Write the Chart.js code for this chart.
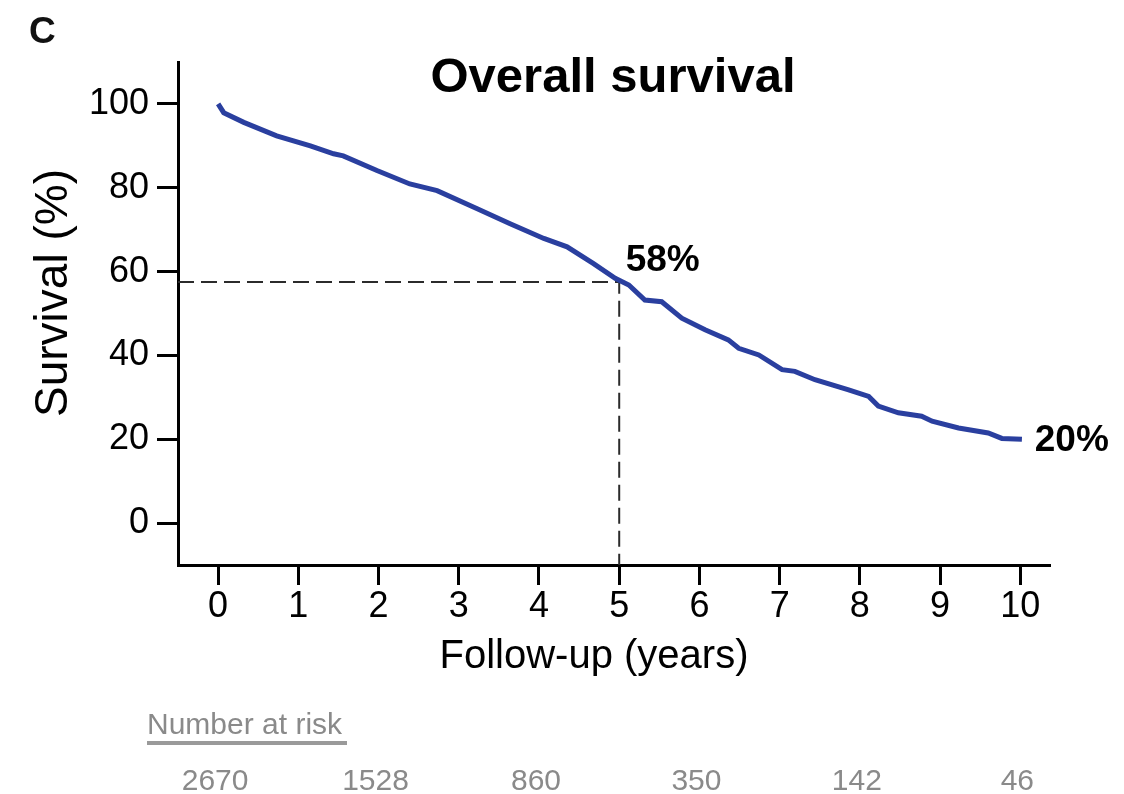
<!DOCTYPE html>
<html>
<head>
<meta charset="utf-8">
<script src="https://cdn.jsdelivr.net/npm/chart.js@4/dist/chart.umd.min.js"></script>
<style>
  body { margin: 0; background: #fff; }
  #wrap { width: 1124px; height: 794px; }
</style>
</head>
<body>
<div id="wrap"><canvas id="km" width="1124" height="794"></canvas></div>
<script>
// survival curve (years, %)
var years    = [0, 0.07, 0.32, 0.73, 1.15, 1.44, 1.56, 1.98, 2.39, 2.73, 3.23, 3.64, 4.06, 4.35, 4.68, 4.95,
                5.12, 5.32, 5.53, 5.78, 6.07, 6.36, 6.49, 6.74, 7.03, 7.19, 7.44, 7.86, 8.11, 8.23, 8.48,
                8.77, 8.90, 9.23, 9.60, 9.77, 10.02];
var survival = [100, 97.9, 95.6, 92.4, 90.0, 88.1, 87.6, 84.1, 80.9, 79.3, 75.0, 71.4, 67.9, 65.9, 61.9, 58.4,
                56.8, 53.2, 52.8, 48.9, 46.1, 43.7, 41.7, 40.1, 36.6, 36.2, 34.2, 31.8, 30.2, 27.9, 26.3,
                25.5, 24.3, 22.7, 21.5, 20.2, 20.0];

var xTicks = [0, 1, 2, 3, 4, 5, 6, 7, 8, 9, 10];
var yTicks = [0, 20, 40, 60, 80, 100];

// 5-year marker
var markYear = 5;
var markSurv = 57.5;

var riskYears  = [0, 2, 4, 6, 8, 10];
var riskCounts = [2670, 1528, 860, 350, 142, 46];

var notes = [
  { x: 5.08, y: 62.5, text: '58%' },
  { x: 10.18, y: 19.6, text: '20%' }
];

var curve = [];
for (var i = 0; i < years.length; i++) {
  curve.push({ x: years[i], y: survival[i] });
}

var textPlugin = {
  id: 'extraText',
  afterDraw: function (chart) {
    var ctx = chart.ctx;
    var xs = chart.scales.x, ys = chart.scales.y;
    ctx.save();
    ctx.fillStyle = '#111';
    ctx.textBaseline = 'alphabetic';

    ctx.font = 'bold 37px "Liberation Sans", Arial, sans-serif';
    ctx.textAlign = 'left';
    ctx.fillText('C', 29, 43);

    ctx.fillStyle = '#000';
    ctx.font = 'bold 49px "Liberation Sans", Arial, sans-serif';
    ctx.textAlign = 'center';
    ctx.fillText('Overall survival', 613, 92);

    ctx.font = '40px "Liberation Sans", Arial, sans-serif';
    ctx.fillText('Follow-up (years)', 594, 668);

    ctx.save();
    ctx.translate(67, 293);
    ctx.rotate(-Math.PI / 2);
    ctx.font = '46px "Liberation Sans", Arial, sans-serif';
    ctx.fillText('Survival (%)', 0, 0);
    ctx.restore();

    ctx.font = 'bold 37px "Liberation Sans", Arial, sans-serif';
    ctx.textAlign = 'left';
    ctx.textBaseline = 'middle';
    notes.forEach(function (n) {
      ctx.fillText(n.text, xs.getPixelForValue(n.x), ys.getPixelForValue(n.y));
    });

    // number at risk table
    ctx.fillStyle = '#8a8a8a';
    ctx.textBaseline = 'alphabetic';
    ctx.font = '30px "Liberation Sans", Arial, sans-serif';
    ctx.fillText('Number at risk', 147, 734);
    ctx.fillStyle = '#9a9a9a';
    ctx.fillRect(147, 741, 200, 4);

    ctx.fillStyle = '#8a8a8a';
    ctx.font = '30px "Liberation Sans", Arial, sans-serif';
    ctx.textAlign = 'center';
    for (var k = 0; k < riskYears.length; k++) {
      ctx.fillText(String(riskCounts[k]), xs.getPixelForValue(riskYears[k]) - 3, 790);
    }
    ctx.restore();
  }
};

var ctx = document.getElementById('km');
var kmChart = new Chart(ctx, {
  type: 'line',
  data: {
    datasets: [
      {
        label: 'Overall survival',
        data: curve,
        borderColor: '#2a3f9f',
        borderWidth: 5,
        pointRadius: 0,
        tension: 0,
        fill: false
      },
      {
        label: '5-year',
        data: [{ x: -0.5, y: markSurv }, { x: markYear, y: markSurv }, { x: markYear, y: -10 }],
        borderColor: '#2b2b2b',
        borderWidth: 2,
        borderDash: [16, 7],
        pointRadius: 0,
        fill: false
      }
    ]
  },
  options: {
    responsive: false,
    animation: false,
    layout: { padding: { top: 62, right: 74, left: 0, bottom: 0 } },
    plugins: {
      legend: { display: false },
      tooltip: { enabled: false },
      title: { display: false }
    },
    scales: {
      x: {
        type: 'linear',
        min: -0.5,
        max: 10.37,
        afterBuildTicks: function (s) { s.ticks = xTicks.map(function (v) { return { value: v }; }); },
        afterFit: function (s) { s.height = 229; },
        grid: { drawOnChartArea: false, drawTicks: true, tickLength: 20, tickWidth: 3, tickColor: '#000', color: '#000' },
        border: { display: true, color: '#000', width: 3 },
        ticks: {
          color: '#000',
          padding: 0,
          maxRotation: 0,
          autoSkip: false,
          font: { family: '"Liberation Sans", Arial, sans-serif', size: 36 }
        }
      },
      y: {
        min: -10,
        max: 110,
        afterBuildTicks: function (s) { s.ticks = yTicks.map(function (v) { return { value: v }; }); },
        afterFit: function (s) { s.width = 178; },
        grid: { drawOnChartArea: false, drawTicks: true, tickLength: 21, tickWidth: 3, tickColor: '#000', color: '#000' },
        border: { display: true, color: '#000', width: 3 },
        ticks: {
          color: '#000',
          padding: 8,
          autoSkip: false,
          font: { family: '"Liberation Sans", Arial, sans-serif', size: 36 }
        }
      }
    }
  },
  plugins: [textPlugin]
});
</script>
</body>
</html>
